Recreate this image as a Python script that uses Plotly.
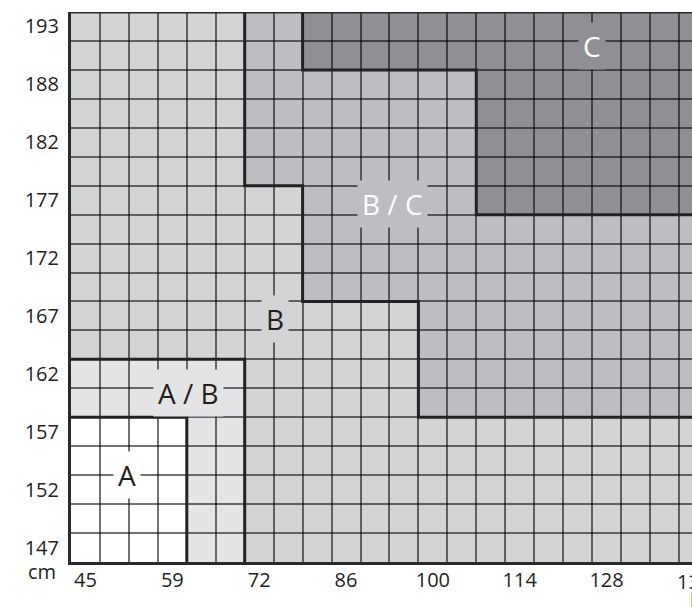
import plotly.graph_objects as go

# Tick labels (weight in kg every 3 columns, height in cm every 2 rows)
x_labels = ["45", "59", "72", "86", "100", "114", "128", "137"]
y_labels = ["147", "152", "157", "162", "167", "172", "177", "182", "188", "193"]

n_rows = 19
n_cols_visible = 621 / 28.95
far = 24  # zones run on past the right edge

# Zone outlines in grid units (columns, rows)
zone_b_x = [0, far, far, 0]
zone_b_y = [0, 0, n_rows, n_rows]
zone_ab_x = [0, 6, 6, 0]
zone_ab_y = [0, 0, 7, 7]
zone_a_x = [0, 4, 4, 0]
zone_a_y = [0, 0, 5, 5]
zone_bc_x = [6, 6, 8, 8, 12, 12, far, far]
zone_bc_y = [19, 13, 13, 9, 9, 5, 5, 19]
zone_c_x = [8, 8, 14, 14, far, far]
zone_c_y = [19, 17, 17, 12, 12, 19]

# Thick borders between zones
border_a_x, border_a_y = [0, 4, 4], [5, 5, 0]
border_ab_x, border_ab_y = [0, 6, 6], [7, 7, 0]
border_bc_x = [6, 6, 8, 8, 12, 12, far]
border_bc_y = [19, 13, 13, 9, 9, 5, 5]
border_c_x = [8, 8, 14, 14, far]
border_c_y = [19, 17, 17, 12, 12]

zones = [
    (zone_b_x, zone_b_y, "#d3d4d6"),
    (zone_ab_x, zone_ab_y, "#e4e4e6"),
    (zone_a_x, zone_a_y, "#ffffff"),
    (zone_bc_x, zone_bc_y, "#bdbec2"),
    (zone_c_x, zone_c_y, "#8f9095"),
]

# Zone labels: text, column, row, box colour, text colour
zone_labels = [
    ("A", 1.95, 3.0, "#ffffff", "#231f20"),
    ("A / B", 4.05, 5.85, "#e4e4e6", "#231f20"),
    ("B", 7.05, 8.4, "#d3d4d6", "#231f20"),
    ("B / C", 11.1, 12.37, "#bdbec2", "#ffffff"),
    ("C", 18.0, 17.82, "#8f9095", "#ffffff"),
]

font = "Open Sans"
ink = "#231f20"

fig = go.Figure()

shapes = []
for xs, ys, col in zones:
    path = "M " + " L ".join(f"{x},{y}" for x, y in zip(xs, ys)) + " Z"
    shapes.append(dict(type="path", path=path, xref="x", yref="y",
                       fillcolor=col, line=dict(width=0), layer="below"))

for bx, by in [(border_a_x, border_a_y), (border_ab_x, border_ab_y),
               (border_bc_x, border_bc_y), (border_c_x, border_c_y)]:
    fig.add_trace(go.Scatter(x=bx, y=by, mode="lines",
                             line=dict(color="#222222", width=3),
                             hoverinfo="skip", showlegend=False))

# top frame line
shapes.append(dict(type="line", xref="paper", yref="y", x0=0, x1=1,
                   y0=n_rows, y1=n_rows, line=dict(color="#2a2a2a", width=3)))

annotations = []
for text, cx, cy, bg, fg in zone_labels:
    annotations.append(dict(x=cx, y=cy, xref="x", yref="y", text=text,
                            showarrow=False, bgcolor=bg, borderpad=4,
                            font=dict(family=font, size=28, color=fg)))

# last weight label falls just past the right edge (half a column beyond it)
annotations.append(dict(x=1, y=0, xref="paper", yref="y", text=x_labels[-1],
                        showarrow=False, xanchor="center", yanchor="top",
                        xshift=1.5, yshift=-4,
                        font=dict(family=font, size=20, color=ink)))
annotations.append(dict(x=1, y=0, xref="paper", yref="y", text="kg",
                        showarrow=False, xanchor="left", yanchor="top",
                        xshift=-4.5, yshift=-23,
                        font=dict(family=font, size=20, color=ink)))
annotations.append(dict(x=0, y=0, xref="paper", yref="y", text="cm",
                        showarrow=False, xanchor="right", yanchor="top",
                        xshift=-13, yshift=6,
                        font=dict(family=font, size=20, color=ink)))

fig.update_layout(
    width=692, height=607,
    margin=dict(l=71, r=0, t=12, b=45, autoexpand=False),
    paper_bgcolor="white", plot_bgcolor="white",
    showlegend=False,
    shapes=shapes,
    annotations=annotations,
    xaxis=dict(range=[0, n_cols_visible], showgrid=False, zeroline=False,
               automargin=False,
               tickmode="array", tickvals=[0.5 + 3 * i for i in range(7)],
               ticktext=x_labels[:-1], ticks="", ticklabelstandoff=-2,
               tickfont=dict(family=font, size=20, color=ink),
               showline=True, linecolor="#2a2a2a", linewidth=3,
               minor=dict(tickmode="array", tickvals=list(range(1, far)),
                          showgrid=True, gridcolor="rgba(0,0,0,0.55)", gridwidth=1.5)),
    yaxis=dict(range=[0, n_rows], showgrid=False, zeroline=False,
               automargin=False,
               tickmode="array", tickvals=[0.5 + 2 * i for i in range(10)],
               ticktext=y_labels, ticks="outside", ticklen=5,
               tickcolor="rgba(0,0,0,0)",
               tickfont=dict(family=font, size=20, color=ink),
               showline=True, linecolor="#2a2a2a", linewidth=3,
               minor=dict(tickmode="array", tickvals=list(range(1, n_rows)),
                          showgrid=True, gridcolor="rgba(0,0,0,0.55)", gridwidth=1.5)),
)

# drop the default page margin so the figure sits flush in the window
fig.write_html("out.html", config={"displayModeBar": False},
               post_script="document.body.style.margin='0';document.body.style.overflow='hidden';")
